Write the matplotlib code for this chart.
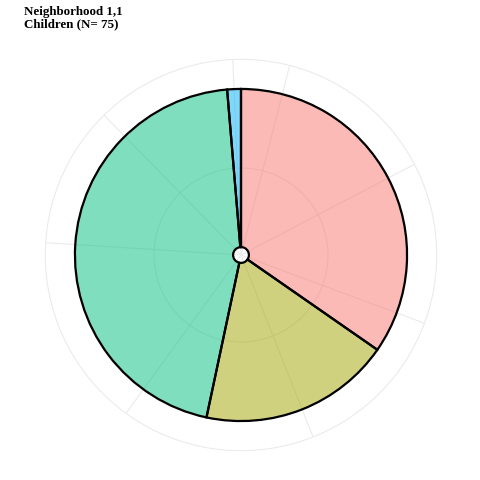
import numpy as np
import matplotlib
matplotlib.use("Agg")
import matplotlib.pyplot as plt

# Data
categories = ["A", "B", "C", "D"]
counts = [26, 14, 34, 1]
colors = ["#F8766D", "#A3A500", "#00BF7D", "#00B0F6"]
title_lines = ["Neighborhood 1,1", "Children (N= 75)"]

total = sum(counts)
cum = np.cumsum([0] + counts)
starts = cum[:-1]
mids = (cum[:-1] + cum[1:]) / 2.0

to_theta = lambda v: np.asarray(v, dtype=float) / total * 2 * np.pi

# ggplot-like minor breaks (midpoints between major breaks, extended)
b = np.sort(mids)
bd = b[1] - b[0]
ext = np.concatenate([[b[0] - bd], b, [b[-1] + bd]])
minor = (ext[:-1] + ext[1:]) / 2.0
minor = minor[(minor >= 0) & (minor <= total)]
grid_vals = np.sort(np.concatenate([b, minor]))

fig = plt.figure(figsize=(4.8, 4.8), dpi=100)
side = 391.4 / 480
ax = fig.add_axes([45.3 / 480, (480 - 450.7) / 480, side, side], projection="polar")
ax.set_theta_zero_location("N")
ax.set_theta_direction(-1)

rmin = 0.505
rmax = 0.505 + 0.45 / 0.4 * 0.99
ax.set_rlim(rmin, rmax)

grid_col = "#EBEBEB"
ax.set_xticks(to_theta(grid_vals))
ax.set_xticklabels([])
ax.set_yticks([1.0])
ax.set_yticklabels([])
ax.grid(True, color=grid_col, linewidth=0.8)
ax.spines["polar"].set_color(grid_col)
ax.spines["polar"].set_linewidth(0.8)
ax.tick_params(length=0)
ax.set_axisbelow(True)

for c, s, col in zip(counts, starts, colors):
    th0 = to_theta(s)
    w = to_theta(c)
    ax.bar(th0 + w / 2, 0.9, width=w, bottom=0.55, color=col, alpha=0.5,
           edgecolor="none", zorder=2)
    ax.bar(th0 + w / 2, 0.9, width=w, bottom=0.55, facecolor="none",
           edgecolor="black", linewidth=1.6, zorder=3)

fig.text(24 / 480, 1 - 5.5 / 480, "\n".join(title_lines), ha="left", va="top",
         fontsize=9.4, fontweight="bold", family="Liberation Serif",
         linespacing=1.1)

fig.savefig("out.png", dpi=100, facecolor="white")
